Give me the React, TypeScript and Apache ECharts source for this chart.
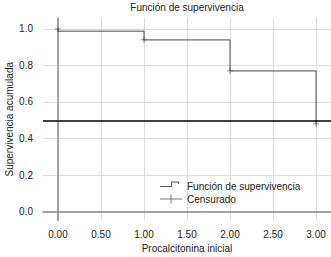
import React, { useEffect, useRef } from "react";
import * as echarts from "echarts";

const titleText = "Función de supervivencia";
const xName = "Procalcitonina inicial";
const yName = "Supervivencia acumulada";
const seriesStepName = "Función de supervivencia";
const seriesCensorName = "Censurado";

// Kaplan-Meier step points (time, cumulative survival)
const stepTimes = [0, 0, 1, 2, 3];
const stepSurvival = [1.0, 0.988, 0.94, 0.77, 0.48];

// Censored marks
const censorTimes = [0, 1, 2, 3];
const censorSurvival = [1.0, 0.94, 0.77, 0.48];

const xTicks = [0, 0.5, 1, 1.5, 2, 2.5, 3];
const yTicks = [0, 0.2, 0.4, 0.6, 0.8, 1.0];
const refLine = 0.5;

const FONT = "Liberation Sans, Arial, Helvetica, sans-serif";

const stepIcon =
  "path://M0,4.5L11,4.5L11,0L19,0L19,2.5L18,2.5L18,1L12,1L12,5.5L0,5.5Z" +
  "M0,0L0.01,0L0,0.01ZM22,9L21.99,9L22,8.99Z";
const plusIcon =
  "path://M0,4L10.5,4L10.5,0L11.5,0L11.5,4L22,4L22,5L11.5,5L11.5,9L10.5,9L10.5,5L0,5Z";
const plusSymbol = "path://M0,2.6L6,2.6L6,3.4L0,3.4ZM2.6,0L3.4,0L3.4,6L2.6,6Z";

export default function App() {
  const ref = useRef<HTMLDivElement>(null);
  useEffect(() => {
    if (!ref.current) return;
    const chart = echarts.init(ref.current, null, { renderer: "svg" });
    const stepData = stepTimes.map((t, i) => [t, stepSurvival[i]]);
    const censorData = censorTimes.map((t, i) => [t, censorSurvival[i]]);
    chart.setOption({
      animation: false,
      backgroundColor: "#ffffff",
      textStyle: { fontFamily: FONT },
      graphic: [
        {
          type: "text",
          x: 187,
          y: 7,
          style: {
            text: titleText,
            align: "center",
            verticalAlign: "middle",
            font: `10px ${FONT}`,
            fill: "#222",
          },
        },
      ],
      grid: {
        left: 43,
        top: 18,
        right: 0,
        bottom: 36.5,
        containLabel: false,
        outerBoundsMode: "none",
      },
      xAxis: {
        type: "value",
        min: -0.174,
        max: 3.174,
        name: xName,
        nameLocation: "middle",
        nameGap: 23,
        nameMoveOverlap: false,
        nameTextStyle: { fontSize: 10, color: "#222", fontFamily: FONT },
        axisLine: { show: true, lineStyle: { color: "#8a8a8a", width: 1.5 } },
        axisTick: { show: false, customValues: xTicks },
        axisLabel: {
          customValues: xTicks,
          formatter: (v: number) => v.toFixed(2),
          fontSize: 10,
          color: "#222",
          margin: 9,
          fontFamily: FONT,
        },
        splitLine: { show: true, lineStyle: { color: "#dcdcdc", width: 1 } },
      },
      yAxis: {
        type: "value",
        min: -0.049,
        max: 1.06,
        name: yName,
        nameLocation: "middle",
        nameGap: 29,
        nameMoveOverlap: false,
        nameTextStyle: { fontSize: 10, color: "#222", fontFamily: FONT },
        axisLine: { show: true, lineStyle: { color: "#8a8a8a", width: 1.5 } },
        axisTick: { show: false, customValues: yTicks },
        axisLabel: {
          customValues: yTicks,
          formatter: (v: number) => v.toFixed(1),
          fontSize: 10,
          color: "#222",
          margin: 10,
          fontFamily: FONT,
        },
        splitLine: { show: true, lineStyle: { color: "#dcdcdc", width: 1 } },
      },
      legend: {
        orient: "vertical",
        left: 160,
        top: 181,
        padding: 0,
        itemGap: 3,
        itemWidth: 22,
        itemHeight: 9,
        textStyle: { fontSize: 10, color: "#222", fontFamily: FONT },
        itemStyle: { color: "#555", borderWidth: 0 },
        data: [
          { name: seriesStepName, icon: stepIcon },
          { name: seriesCensorName, icon: plusIcon },
        ],
      },
      series: [
        {
          name: seriesStepName,
          type: "line",
          step: "end",
          data: stepData,
          symbol: "none",
          color: "#555",
          lineStyle: { color: "#4a4a4a", width: 1 },
          markLine: {
            silent: true,
            symbol: "none",
            label: { show: false },
            lineStyle: { color: "#000", width: 1.6, type: "solid" },
            data: [{ yAxis: refLine }],
          },
          z: 3,
        },
        {
          name: seriesCensorName,
          type: "scatter",
          data: censorData,
          symbol: plusSymbol,
          symbolSize: 6,
          color: "#555",
          itemStyle: { color: "#444", borderWidth: 0 },
          z: 4,
        },
      ],
    });
    return () => chart.dispose();
  }, []);
  return (
    <div
      ref={ref}
      style={{ position: "fixed", left: 0, top: 0, width: 331, height: 257, background: "#fff" }}
    />
  );
}
